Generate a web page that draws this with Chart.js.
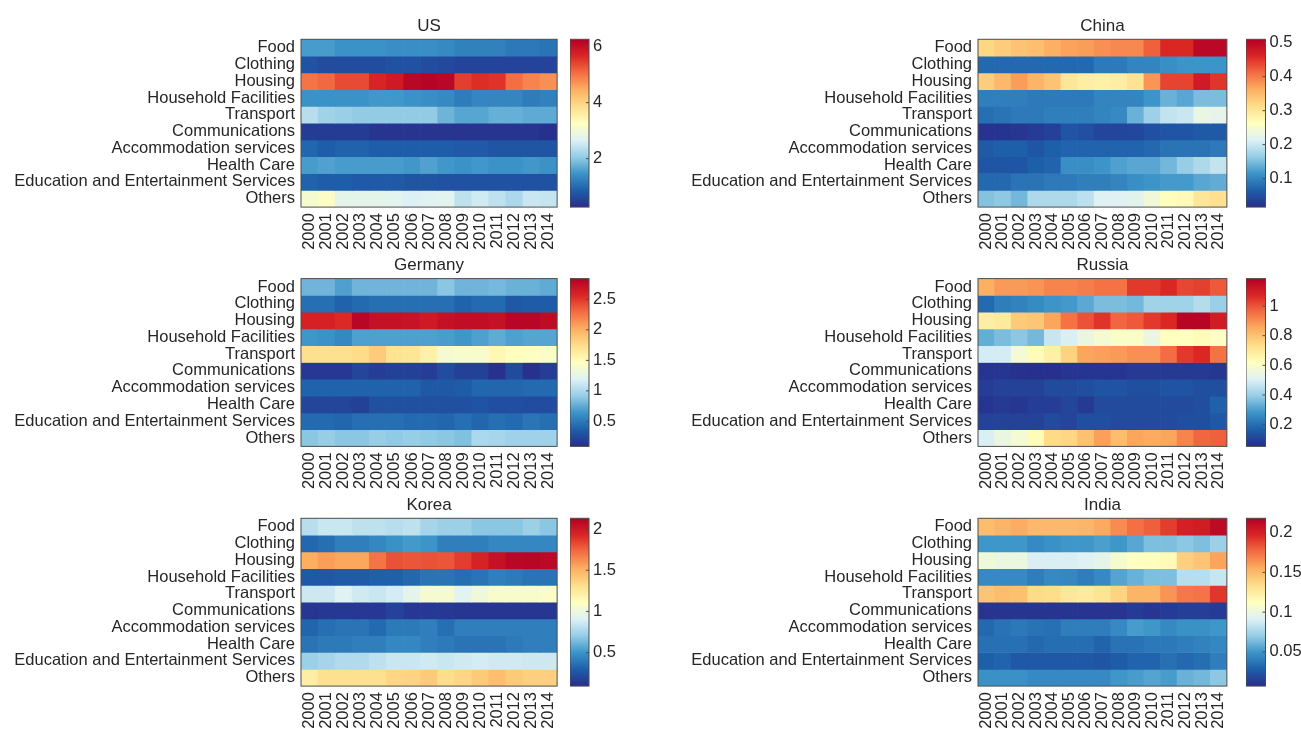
<!DOCTYPE html>
<html>
<head>
<meta charset="utf-8">
<title>Household consumption by category, 2000–2014</title>
<script src="https://cdn.jsdelivr.net/npm/chart.js@4.4.1/dist/chart.umd.min.js"></script>
<style>
  html, body { margin: 0; padding: 0; background: #ffffff; width: 1301px; height: 729px; overflow: hidden; }
  canvas { position: absolute; }
</style>
</head>
<body>
<script>
// ---- data -------------------------------------------------------------
const categories = ['Food', 'Clothing', 'Housing', 'Household Facilities', 'Transport',
  'Communications', 'Accommodation services', 'Health Care',
  'Education and Entertainment Services', 'Others'];
const years = ['2000', '2001', '2002', '2003', '2004', '2005', '2006', '2007',
  '2008', '2009', '2010', '2011', '2012', '2013', '2014'];

const usValues = [
  [1.55, 1.55, 1.45, 1.45, 1.45, 1.4, 1.4, 1.4, 1.35, 1.25, 1.25, 1.25, 1.15, 1.15, 1.1],
  [0.72, 0.65, 0.65, 0.65, 0.65, 0.7, 0.7, 0.65, 0.6, 0.55, 0.55, 0.55, 0.55, 0.55, 0.55],
  [5.0, 5.1, 5.35, 5.35, 5.7, 5.85, 6.15, 6.2, 6.15, 5.45, 5.6, 5.55, 5.05, 4.85, 4.75],
  [1.45, 1.45, 1.45, 1.45, 1.5, 1.5, 1.45, 1.4, 1.35, 1.2, 1.3, 1.3, 1.3, 1.2, 1.25],
  [2.35, 2.15, 2.1, 2.05, 2.05, 2.05, 2.05, 2.05, 1.8, 1.65, 1.65, 1.75, 1.75, 1.7, 1.7],
  [0.45, 0.45, 0.45, 0.45, 0.35, 0.35, 0.35, 0.35, 0.35, 0.35, 0.35, 0.35, 0.35, 0.35, 0.3],
  [0.95, 0.85, 0.9, 0.9, 0.85, 0.85, 0.85, 0.85, 0.85, 0.8, 0.8, 0.75, 0.75, 0.75, 0.75],
  [1.55, 1.6, 1.55, 1.55, 1.55, 1.55, 1.5, 1.6, 1.5, 1.45, 1.5, 1.45, 1.45, 1.5, 1.45],
  [0.9, 0.85, 0.85, 0.8, 0.8, 0.8, 0.75, 0.75, 0.7, 0.7, 0.7, 0.7, 0.7, 0.7, 0.7],
  [3.1, 3.2, 2.8, 2.8, 2.8, 2.75, 2.65, 2.7, 2.75, 2.4, 2.55, 2.4, 2.25, 2.5, 2.45]
];
const usRange = [0.27, 6.26];
const usTicks = [2, 4, 6];

const chinaValues = [
  [0.32, 0.33, 0.34, 0.345, 0.36, 0.37, 0.375, 0.385, 0.39, 0.39, 0.42, 0.46, 0.46, 0.5, 0.5],
  [0.075, 0.075, 0.075, 0.075, 0.075, 0.075, 0.075, 0.09, 0.09, 0.1, 0.1, 0.11, 0.115, 0.115, 0.115],
  [0.33, 0.35, 0.375, 0.355, 0.34, 0.3, 0.29, 0.285, 0.29, 0.305, 0.38, 0.44, 0.44, 0.475, 0.45],
  [0.095, 0.095, 0.095, 0.09, 0.09, 0.09, 0.09, 0.1, 0.1, 0.1, 0.115, 0.14, 0.13, 0.15, 0.15],
  [0.08, 0.085, 0.09, 0.09, 0.095, 0.095, 0.095, 0.1, 0.105, 0.14, 0.17, 0.195, 0.2, 0.23, 0.225],
  [0.022, 0.022, 0.025, 0.03, 0.035, 0.055, 0.05, 0.04, 0.04, 0.042, 0.05, 0.055, 0.055, 0.06, 0.06],
  [0.06, 0.065, 0.065, 0.055, 0.065, 0.07, 0.07, 0.07, 0.07, 0.07, 0.075, 0.085, 0.085, 0.085, 0.09],
  [0.055, 0.055, 0.055, 0.065, 0.07, 0.11, 0.11, 0.115, 0.125, 0.13, 0.13, 0.145, 0.165, 0.18, 0.195],
  [0.075, 0.075, 0.085, 0.085, 0.09, 0.09, 0.095, 0.095, 0.1, 0.11, 0.115, 0.12, 0.12, 0.13, 0.135],
  [0.155, 0.16, 0.145, 0.18, 0.18, 0.18, 0.19, 0.215, 0.215, 0.22, 0.24, 0.265, 0.27, 0.3, 0.31]
];
const chinaRange = [0.016, 0.51];
const chinaTicks = [0.1, 0.2, 0.3, 0.4, 0.5];

const germanyValues = [
  [0.8, 0.8, 0.7, 0.8, 0.8, 0.8, 0.8, 0.8, 0.88, 0.8, 0.8, 0.82, 0.78, 0.78, 0.75],
  [0.45, 0.45, 0.38, 0.42, 0.45, 0.45, 0.45, 0.45, 0.45, 0.38, 0.42, 0.42, 0.33, 0.35, 0.35],
  [2.6, 2.6, 2.55, 2.8, 2.72, 2.72, 2.7, 2.65, 2.72, 2.74, 2.74, 2.72, 2.8, 2.8, 2.75],
  [0.65, 0.63, 0.58, 0.7, 0.7, 0.7, 0.7, 0.7, 0.68, 0.65, 0.7, 0.75, 0.7, 0.72, 0.72],
  [1.72, 1.72, 1.72, 1.75, 1.85, 1.7, 1.68, 1.58, 1.38, 1.4, 1.4, 1.52, 1.47, 1.45, 1.42],
  [0.15, 0.15, 0.15, 0.22, 0.18, 0.2, 0.2, 0.18, 0.26, 0.2, 0.2, 0.12, 0.25, 0.12, 0.18],
  [0.38, 0.38, 0.38, 0.38, 0.38, 0.38, 0.38, 0.33, 0.33, 0.35, 0.4, 0.4, 0.4, 0.42, 0.42],
  [0.22, 0.22, 0.22, 0.2, 0.28, 0.28, 0.28, 0.28, 0.28, 0.28, 0.3, 0.27, 0.27, 0.26, 0.26],
  [0.42, 0.42, 0.4, 0.45, 0.45, 0.45, 0.42, 0.42, 0.4, 0.45, 0.4, 0.45, 0.42, 0.48, 0.45],
  [0.88, 0.92, 0.88, 0.88, 0.92, 0.9, 0.92, 0.9, 0.88, 0.85, 1.0, 0.98, 0.95, 0.95, 0.95]
];
const germanyRange = [0.09, 2.84];
const germanyTicks = [0.5, 1, 1.5, 2, 2.5];

const russiaValues = [
  [0.84, 0.88, 0.88, 0.89, 0.92, 0.92, 0.93, 0.95, 0.95, 1.04, 1.04, 1.07, 1.02, 1.03, 0.99],
  [0.19, 0.23, 0.24, 0.26, 0.28, 0.29, 0.32, 0.36, 0.36, 0.35, 0.41, 0.41, 0.41, 0.44, 0.4],
  [0.68, 0.69, 0.78, 0.79, 0.86, 0.95, 1.0, 1.05, 0.97, 0.99, 1.04, 1.07, 1.17, 1.17, 1.1],
  [0.33, 0.36, 0.38, 0.35, 0.47, 0.5, 0.55, 0.58, 0.6, 0.6, 0.55, 0.62, 0.62, 0.63, 0.61],
  [0.49, 0.49, 0.58, 0.63, 0.67, 0.76, 0.86, 0.87, 0.88, 0.9, 0.9, 0.96, 1.04, 1.07, 0.95],
  [0.07, 0.07, 0.065, 0.06, 0.06, 0.07, 0.07, 0.07, 0.07, 0.08, 0.08, 0.08, 0.08, 0.08, 0.075],
  [0.09, 0.1, 0.1, 0.1, 0.12, 0.12, 0.13, 0.14, 0.14, 0.13, 0.13, 0.14, 0.14, 0.13, 0.13],
  [0.07, 0.08, 0.075, 0.09, 0.09, 0.11, 0.08, 0.12, 0.12, 0.12, 0.12, 0.12, 0.12, 0.13, 0.17],
  [0.1, 0.1, 0.1, 0.1, 0.12, 0.11, 0.13, 0.13, 0.12, 0.12, 0.12, 0.12, 0.13, 0.13, 0.15],
  [0.5, 0.55, 0.58, 0.63, 0.74, 0.75, 0.8, 0.87, 0.81, 0.86, 0.85, 0.86, 0.92, 0.97, 0.98]
];
const russiaRange = [0.053, 1.185];
const russiaTicks = [0.2, 0.4, 0.6, 0.8, 1];

const koreaValues = [
  [0.8, 0.85, 0.85, 0.82, 0.82, 0.8, 0.82, 0.75, 0.72, 0.72, 0.68, 0.68, 0.68, 0.72, 0.68],
  [0.33, 0.36, 0.42, 0.42, 0.45, 0.49, 0.52, 0.5, 0.42, 0.42, 0.42, 0.45, 0.45, 0.45, 0.45],
  [1.52, 1.57, 1.54, 1.54, 1.7, 1.8, 1.79, 1.8, 1.79, 1.86, 1.95, 2.04, 2.09, 2.1, 2.08],
  [0.27, 0.27, 0.28, 0.28, 0.3, 0.3, 0.33, 0.38, 0.38, 0.35, 0.38, 0.42, 0.4, 0.38, 0.38],
  [0.86, 0.86, 0.92, 0.87, 0.85, 0.88, 0.95, 1.05, 1.05, 0.94, 1.02, 1.07, 1.07, 1.07, 1.08],
  [0.13, 0.14, 0.14, 0.14, 0.14, 0.18, 0.14, 0.14, 0.14, 0.13, 0.13, 0.13, 0.13, 0.13, 0.13],
  [0.32, 0.36, 0.38, 0.38, 0.34, 0.4, 0.4, 0.42, 0.36, 0.42, 0.42, 0.42, 0.42, 0.42, 0.42],
  [0.38, 0.4, 0.4, 0.42, 0.42, 0.45, 0.45, 0.42, 0.4, 0.38, 0.38, 0.38, 0.4, 0.42, 0.42],
  [0.72, 0.75, 0.78, 0.78, 0.82, 0.85, 0.85, 0.87, 0.85, 0.87, 0.88, 0.87, 0.87, 0.86, 0.86],
  [1.22, 1.3, 1.3, 1.3, 1.3, 1.35, 1.36, 1.4, 1.32, 1.35, 1.4, 1.45, 1.4, 1.38, 1.38]
];
const koreaRange = [0.094, 2.13];
const koreaTicks = [0.5, 1, 1.5, 2];

const indiaValues = [
  [0.148, 0.152, 0.155, 0.15, 0.15, 0.15, 0.151, 0.156, 0.166, 0.175, 0.18, 0.19, 0.2, 0.202, 0.212],
  [0.05, 0.05, 0.05, 0.045, 0.048, 0.05, 0.05, 0.053, 0.05, 0.056, 0.065, 0.065, 0.068, 0.065, 0.072],
  [0.103, 0.1, 0.1, 0.09, 0.09, 0.09, 0.092, 0.096, 0.107, 0.112, 0.113, 0.116, 0.14, 0.145, 0.158],
  [0.045, 0.045, 0.045, 0.04, 0.045, 0.044, 0.04, 0.045, 0.055, 0.06, 0.065, 0.065, 0.08, 0.08, 0.085],
  [0.145, 0.148, 0.147, 0.135, 0.134, 0.128, 0.125, 0.13, 0.138, 0.152, 0.152, 0.163, 0.172, 0.174, 0.192],
  [0.01, 0.01, 0.01, 0.01, 0.01, 0.01, 0.01, 0.01, 0.01, 0.013, 0.011, 0.013, 0.014, 0.014, 0.013],
  [0.032, 0.036, 0.038, 0.036, 0.035, 0.04, 0.04, 0.04, 0.045, 0.052, 0.05, 0.045, 0.048, 0.048, 0.05],
  [0.035, 0.035, 0.035, 0.032, 0.034, 0.034, 0.034, 0.03, 0.036, 0.036, 0.038, 0.038, 0.04, 0.042, 0.044],
  [0.028, 0.03, 0.025, 0.025, 0.025, 0.025, 0.025, 0.024, 0.027, 0.03, 0.03, 0.035, 0.032, 0.034, 0.04],
  [0.048, 0.048, 0.048, 0.045, 0.045, 0.045, 0.045, 0.045, 0.05, 0.052, 0.055, 0.052, 0.06, 0.062, 0.068]
];
const indiaRange = [0.007, 0.218];
const indiaTicks = [0.05, 0.1, 0.15, 0.2];

// ---- colour map (blue - yellow - red diverging) ------------------------
const CMAP = [
  [40, 45, 140], [30, 95, 170], [60, 148, 200], [150, 205, 230], [222, 241, 245],
  [255, 255, 191], [254, 222, 140], [252, 174, 97], [244, 109, 67], [218, 38, 36], [178, 0, 38]
];
const rgb = c => `rgb(${Math.round(c[0])},${Math.round(c[1])},${Math.round(c[2])})`;
function cmap(t) {
  t = Math.min(1, Math.max(0, t));
  const s = t * (CMAP.length - 1);
  const i = Math.min(Math.floor(s), CMAP.length - 2);
  const f = s - i;
  const a = CMAP[i], b = CMAP[i + 1];
  return rgb([a[0] + (b[0] - a[0]) * f, a[1] + (b[1] - a[1]) * f, a[2] + (b[2] - a[2]) * f]);
}

// ---- layout ------------------------------------------------------------
const FONT = "'Liberation Sans', Arial, Helvetica, sans-serif";
const TEXT = '#262626';
const LABEL_SIZE = 16.5;
const ROW_TOPS = [39.3, 278.6, 518.3];
const PLOT_H = 167.8;
const X_AXIS_H = 50;
const COLS = [
  { canvasLeft: 0, plotLeft: 301, plotRight: 561, canvasRight: 575, barLeft: 570, barWidth: 19, barAxis: 45 },
  { canvasLeft: 600, plotLeft: 978, plotRight: 1237, canvasRight: 1245, barLeft: 1246, barWidth: 19.5, barAxis: 35.5 }
];

const panels = [
  { name: 'US', values: usValues, range: usRange, ticks: usTicks, col: 0, row: 0 },
  { name: 'China', values: chinaValues, range: chinaRange, ticks: chinaTicks, col: 1, row: 0 },
  { name: 'Germany', values: germanyValues, range: germanyRange, ticks: germanyTicks, col: 0, row: 1 },
  { name: 'Russia', values: russiaValues, range: russiaRange, ticks: russiaTicks, col: 1, row: 1 },
  { name: 'Korea', values: koreaValues, range: koreaRange, ticks: koreaTicks, col: 0, row: 2 },
  { name: 'India', values: indiaValues, range: indiaRange, ticks: indiaTicks, col: 1, row: 2 }
];

// box around the plotting area, with optional inward ticks on the right edge
const framePlugin = {
  id: 'frame',
  afterDatasetsDraw(chart, args, opts) {
    const { ctx, chartArea: a } = chart;
    ctx.save();
    ctx.strokeStyle = opts.color || '#4d4d4d';
    ctx.lineWidth = 1;
    ctx.strokeRect(a.left, a.top, a.right - a.left, a.bottom - a.top);
    if (opts.ticks) {
      const sc = chart.scales.y;
      ctx.beginPath();
      sc.ticks.forEach(t => {
        const p = sc.getPixelForValue(t.value);
        ctx.moveTo(a.right, p);
        ctx.lineTo(a.right - 3, p);
      });
      ctx.stroke();
    }
    ctx.restore();
  }
};

function makeCanvas(left, top, width, height) {
  const cv = document.createElement('canvas');
  cv.width = width;
  cv.height = height;
  cv.style.left = left + 'px';
  cv.style.top = top + 'px';
  cv.style.width = width + 'px';
  cv.style.height = height + 'px';
  document.body.appendChild(cv);
  return cv;
}

function drawHeatmap(p) {
  const col = COLS[p.col];
  const plotTop = ROW_TOPS[p.row];
  const canvasTop = Math.floor(plotTop - 39);
  const topSpace = plotTop - canvasTop;
  const canvasH = Math.ceil(topSpace + PLOT_H + X_AXIS_H);
  const padBottom = canvasH - (topSpace + PLOT_H + X_AXIS_H);
  const canvasW = col.canvasRight - col.canvasLeft;
  const yAxisW = col.plotLeft - col.canvasLeft;
  const titleLine = 17 * 1.2;
  const titleBottom = 3;
  const [lo, hi] = p.range;

  const cv = makeCanvas(col.canvasLeft, canvasTop, canvasW, canvasH);
  new Chart(cv, {
    type: 'bar',
    data: {
      labels: years,
      datasets: categories.map((c, r) => ({
        label: c,
        data: years.map(() => [r, r + 1]),
        backgroundColor: p.values[r].map(v => cmap((v - lo) / (hi - lo))),
        borderWidth: 0,
        barPercentage: 1,
        categoryPercentage: 1,
        grouped: false
      }))
    },
    options: {
      responsive: false,
      animation: false,
      events: [],
      layout: { padding: { left: 0, right: col.canvasRight - col.plotRight, top: 0, bottom: padBottom } },
      plugins: {
        legend: { display: false },
        tooltip: { enabled: false },
        title: {
          display: true, text: p.name, fullSize: false, color: TEXT,
          font: { family: FONT, size: 17, weight: 'normal' },
          padding: { top: topSpace - titleLine - titleBottom, bottom: titleBottom }
        },
        frame: { color: '#4d4d4d' }
      },
      scales: {
        x: {
          type: 'category', offset: true,
          grid: { display: false, drawTicks: false }, border: { display: false },
          ticks: { color: TEXT, font: { family: FONT, size: LABEL_SIZE }, minRotation: 90, maxRotation: 90, autoSkip: false, padding: 6 },
          afterFit(s) { s.height = X_AXIS_H; }
        },
        y: {
          type: 'linear', min: 0, max: categories.length, reverse: true,
          grid: { display: false, drawTicks: false }, border: { display: false },
          afterBuildTicks(s) { s.ticks = categories.map((c, i) => ({ value: i + 0.5 })); },
          ticks: { autoSkip: false, color: TEXT, font: { family: FONT, size: LABEL_SIZE }, padding: 6, callback: (v, i) => categories[i] },
          afterFit(s) { s.width = yAxisW; }
        }
      }
    },
    plugins: [framePlugin]
  });
}

function drawColorbar(p) {
  const col = COLS[p.col];
  const plotTop = ROW_TOPS[p.row];
  const canvasTop = Math.floor(plotTop) - 15;
  const padTop = plotTop - canvasTop;
  const canvasH = Math.ceil(padTop + PLOT_H + 15);
  const padBottom = canvasH - padTop - PLOT_H;
  const canvasW = Math.round(col.barWidth + col.barAxis);
  const [lo, hi] = p.range;

  const cv = makeCanvas(col.barLeft, canvasTop, canvasW, canvasH);
  new Chart(cv, {
    type: 'bar',
    data: {
      labels: [''],
      datasets: [{
        data: [[lo, hi]],
        backgroundColor(ctx) {
          const a = ctx.chart.chartArea;
          if (!a) return rgb(CMAP[5]);
          const g = ctx.chart.ctx.createLinearGradient(0, a.bottom, 0, a.top);
          CMAP.forEach((c, i) => g.addColorStop(i / (CMAP.length - 1), rgb(c)));
          return g;
        },
        borderWidth: 0,
        barPercentage: 1,
        categoryPercentage: 1
      }]
    },
    options: {
      responsive: false,
      animation: false,
      events: [],
      layout: { padding: { left: 0, right: 0, top: padTop, bottom: padBottom } },
      plugins: { legend: { display: false }, tooltip: { enabled: false }, frame: { color: '#4d4d4d', ticks: true } },
      scales: {
        x: { display: false },
        y: {
          position: 'right', min: lo, max: hi,
          grid: { display: false, drawTicks: false }, border: { display: false },
          afterBuildTicks(s) { s.ticks = p.ticks.map(v => ({ value: v })); },
          ticks: { autoSkip: false, color: TEXT, font: { family: FONT, size: LABEL_SIZE }, padding: 4, callback: v => String(v) },
          afterFit(s) { s.width = canvasW - col.barWidth; }
        }
      }
    },
    plugins: [framePlugin]
  });
}

panels.forEach(p => { drawHeatmap(p); drawColorbar(p); });
</script>
</body>
</html>
